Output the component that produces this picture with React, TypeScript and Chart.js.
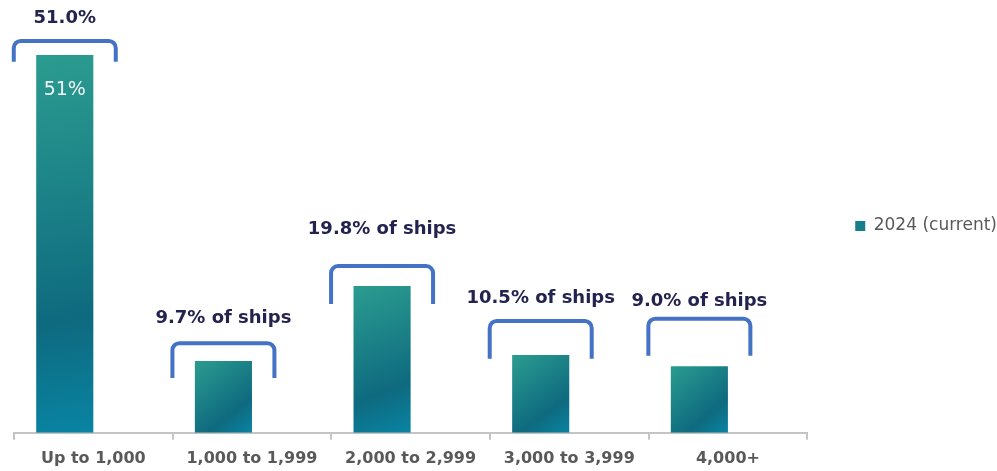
import React, { useEffect, useRef } from "react";
import { Chart, registerables } from "chart.js";

Chart.register(...registerables);

// ---- data ----
const categories = ["Up to 1,000", "1,000 to 1,999", "2,000 to 2,999", "3,000 to 3,999", "4,000+"];
const seriesName = "2024 (current)";
const shareValues = [51.0, 9.7, 19.8, 10.5, 9.0];
const emptySeries = [null, null, null, null, null];
const bracketLabels = ["51.0%", "9.7% of ships", "19.8% of ships", "10.5% of ships", "9.0% of ships"];
const insideLabels = ["51%", "", "", "", ""];
// annotation levels (in % units of the value axis)
const bracketTop = [52.9, 12.1, 22.5, 15.1, 15.4];
const bracketBottom = [50.1, 7.4, 17.4, 10.0, 10.4];
const bracketLabelLevel = [55.9, 15.5, 27.4, 18.2, 17.7];

const FONT = "'DejaVu Sans', sans-serif";

const gradientPlugin = {
  id: "barGradient",
  beforeDatasetsDraw(chart: any) {
    const meta = chart.getDatasetMeta(0);
    const ctx = chart.ctx;
    meta.data.forEach((el: any) => {
      const { x, y, width, base } = el.getProps(["x", "y", "width", "base"], true);
      const left = x - width / 2;
      const g = ctx.createLinearGradient(left, y, left + width, base);
      g.addColorStop(0, "#2b9c90");
      g.addColorStop(0.7, "#0e6a7f");
      g.addColorStop(1, "#0984a3");
      el.options = { ...el.options, backgroundColor: g };
    });
  },
};

const bracketPlugin = {
  id: "brackets",
  afterLayout(chart: any) {
    const lg = chart.legend;
    if (lg) {
      lg.top -= 40;
      lg.bottom -= 40;
      lg.left += 10;
      lg.right += 10;
    }
  },
  afterDatasetsDraw(chart: any) {
    const meta = chart.getDatasetMeta(0);
    const yScale = chart.scales.y;
    const ctx = chart.ctx;
    ctx.save();
    meta.data.forEach((el: any, i: number) => {
      const cx = el.x;
      const hw = 51;
      const top = yScale.getPixelForValue(bracketTop[i]);
      const bot = yScale.getPixelForValue(bracketBottom[i]);
      const r = 7;
      ctx.beginPath();
      ctx.moveTo(cx - hw, bot);
      ctx.lineTo(cx - hw, top + r);
      ctx.arcTo(cx - hw, top, cx - hw + r, top, r);
      ctx.lineTo(cx + hw - r, top);
      ctx.arcTo(cx + hw, top, cx + hw, top + r, r);
      ctx.lineTo(cx + hw, bot);
      ctx.strokeStyle = "#4472c4";
      ctx.lineWidth = 4;
      ctx.lineCap = "butt";
      ctx.stroke();

      ctx.font = `bold 18px ${FONT}`;
      ctx.fillStyle = "#23234f";
      ctx.textAlign = "center";
      ctx.textBaseline = "middle";
      ctx.fillText(bracketLabels[i], cx, yScale.getPixelForValue(bracketLabelLevel[i]));

      if (insideLabels[i]) {
        ctx.font = `19px ${FONT}`;
        ctx.fillStyle = "#eef5f5";
        ctx.fillText(insideLabels[i], cx, el.y + 35);
      }
    });
    ctx.restore();
  },
};

export default function App() {
  const ref = useRef<HTMLCanvasElement | null>(null);

  useEffect(() => {
    if (!ref.current) return;
    const chart = new Chart(ref.current, {
      type: "bar",
      data: {
        labels: categories,
        datasets: [
          {
            label: seriesName,
            data: shareValues,
            backgroundColor: () => "#177f8a",
            borderWidth: 0,
            barPercentage: 1.0,
            categoryPercentage: 0.72,
          },
          {
            label: "",
            data: emptySeries as any,
            backgroundColor: "rgba(0,0,0,0)",
            barPercentage: 1.0,
            categoryPercentage: 0.72,
          },
        ],
      },
      options: {
        responsive: false,
        animation: false,
        layout: { padding: { top: 55, left: 14, bottom: -6, right: 0 } },
        plugins: {
          legend: {
            position: "right",
            labels: {
              boxWidth: 10,
              boxHeight: 10,
              padding: 4,
              color: "#595959",
              font: { family: FONT, size: 17 },
              filter: (item: any) => item.datasetIndex === 0,
            },
          },
          tooltip: { enabled: false },
        },
        scales: {
          x: {
            grid: {
              display: true,
              drawOnChartArea: false,
              drawTicks: true,
              tickLength: 7,
              color: "#c4c4c4",
              lineWidth: 2,
              offset: true,
            },
            border: { display: true, color: "#c4c4c4", width: 2 },
            ticks: {
              color: "#595959",
              padding: 9,
              font: { family: FONT, size: 16, weight: "bold" },
              maxRotation: 0,
              autoSkip: false,
            },
          },
          y: {
            display: false,
            min: 0,
            max: 51,
          },
          y2: {
            type: "linear",
            position: "right",
            display: true,
            grid: { display: false },
            ticks: { display: false },
            border: { display: false },
            afterFit: (s: any) => {
              s.width = 34;
            },
          },
        },
      },
      plugins: [gradientPlugin, bracketPlugin],
    } as any);
    return () => chart.destroy();
  }, []);

  return (
    <div style={{ position: "absolute", left: 0, top: 0, width: 997, height: 471, background: "#fff" }}>
      <canvas ref={ref} width={997} height={471} style={{ display: "block" }} />
    </div>
  );
}
